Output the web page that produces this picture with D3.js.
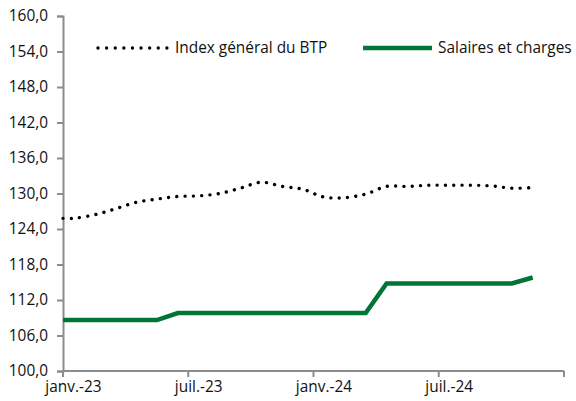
<!DOCTYPE html>
<html>
<head>
<meta charset="utf-8">
<script src="https://cdn.jsdelivr.net/npm/d3@7"></script>
<style>
  body { margin: 0; background: #fff; }
  svg text { font-family: "Open Sans", sans-serif; fill: #111; }
</style>
</head>
<body>
<div id="chart"></div>
<script>
// monthly categories, janv.-23 .. déc.-24
const months = ["janv.-23","févr.-23","mars-23","avr.-23","mai-23","juin-23",
  "juil.-23","août-23","sept.-23","oct.-23","nov.-23","déc.-23",
  "janv.-24","févr.-24","mars-24","avr.-24","mai-24","juin-24",
  "juil.-24","août-24","sept.-24","oct.-24","nov.-24","déc.-24"];
const tickLabels = ["janv.-23","juil.-23","janv.-24","juil.-24"];
const yTicks = [100,106,112,118,124,130,136,142,148,154,160];

const indexBTP = [125.8,126.4,127.4,128.5,129.05,129.5,129.6,130.0,130.9,131.9,131.2,130.7,
  129.4,129.3,129.9,131.2,131.2,131.4,131.4,131.4,131.3,130.9,131.0];
const salaires = [108.6,108.6,108.6,108.6,108.6,109.8,109.8,109.8,109.8,109.8,109.8,109.8,
  109.8,109.8,109.8,114.8,114.8,114.8,114.8,114.8,114.8,114.8,115.8];

const width = 576, height = 401;
const margin = {top: 16, right: 12, bottom: 30, left: 63};
const fontSize = 15.4;

const svg = d3.select("#chart").append("svg")
    .attr("width", width)
    .attr("height", height);

const x = d3.scaleBand()
    .domain(months)
    .range([margin.left, width - margin.right])
    .padding(0);

const y = d3.scaleLinear()
    .domain([100, 160])
    .range([height - margin.bottom, margin.top]);

const fr = d3.formatLocale({decimal: ",", thousands: " ", grouping: [3], currency: ["", " €"]});
const axisColor = "#8c8c8c";

// y axis
const yAxis = svg.append("g")
    .attr("transform", `translate(${margin.left},0)`)
    .call(d3.axisLeft(y).tickValues(yTicks).tickFormat(fr.format(".1f")).tickSizeOuter(0).tickSize(6).tickPadding(9));
yAxis.selectAll("path, line").attr("stroke", axisColor).attr("stroke-width", 2);
yAxis.selectAll("text").attr("font-size", fontSize).attr("font-family", "Open Sans").attr("fill", "#111");

// x axis: boundary ticks every 6 months, labels centered in the month
const xg = svg.append("g");
xg.append("line")
    .attr("x1", x.range()[0]).attr("x2", x.range()[1])
    .attr("y1", y(100)).attr("y2", y(100))
    .attr("stroke", axisColor).attr("stroke-width", 2);
const edges = tickLabels.map(m => x(m)).concat([x.range()[1]]);
xg.selectAll("line.tick").data(edges).join("line")
    .attr("class", "tick")
    .attr("x1", d => d).attr("x2", d => d)
    .attr("y1", y(100)).attr("y2", y(100) + 6)
    .attr("stroke", axisColor).attr("stroke-width", 2);
xg.selectAll("text").data(tickLabels).join("text")
    .attr("x", d => x(d) + x.bandwidth() / 2)
    .attr("y", y(100) + 21)
    .attr("text-anchor", "middle")
    .attr("font-size", fontSize)
    .text(d => d);

const cx = (d, i) => x(months[i]) + x.bandwidth() / 2;

// both series start at the axis edge, as in the original
const lineFrom = curve => d3.line()
    .x((d, i) => i === 0 ? x.range()[0] : cx(d, i - 1))
    .y(d => y(d))
    .curve(curve);

svg.append("path")
    .datum([indexBTP[0]].concat(indexBTP))
    .attr("fill", "none")
    .attr("stroke", "#000")
    .attr("stroke-width", 3.4)
    .attr("stroke-linecap", "round")
    .attr("stroke-dasharray", "0.01 8.3")
    .attr("d", lineFrom(d3.curveCatmullRom));

svg.append("path")
    .datum([salaires[0]].concat(salaires))
    .attr("fill", "none")
    .attr("stroke", "#007535")
    .attr("stroke-width", 4.5)
    .attr("d", lineFrom(d3.curveLinear));

// legend
const legend = [
  {name: "Index général du BTP", x0: 98, x1: 167, tx: 175, dash: true},
  {name: "Salaires et charges", x0: 363, x1: 432, tx: 438, dash: false}
];
const lg = svg.append("g").selectAll("g").data(legend).join("g");
lg.append("line")
    .attr("x1", d => d.x0).attr("x2", d => d.x1)
    .attr("y1", 48).attr("y2", 48)
    .attr("stroke", d => d.dash ? "#000" : "#007535")
    .attr("stroke-width", d => d.dash ? 3.4 : 4.5)
    .attr("stroke-linecap", d => d.dash ? "round" : "butt")
    .attr("stroke-dasharray", d => d.dash ? "0.01 8.6" : null);
lg.append("text")
    .attr("x", d => d.tx).attr("y", 48)
    .attr("dy", "0.35em")
    .attr("font-size", fontSize)
    .text(d => d.name);
</script>
</body>
</html>
